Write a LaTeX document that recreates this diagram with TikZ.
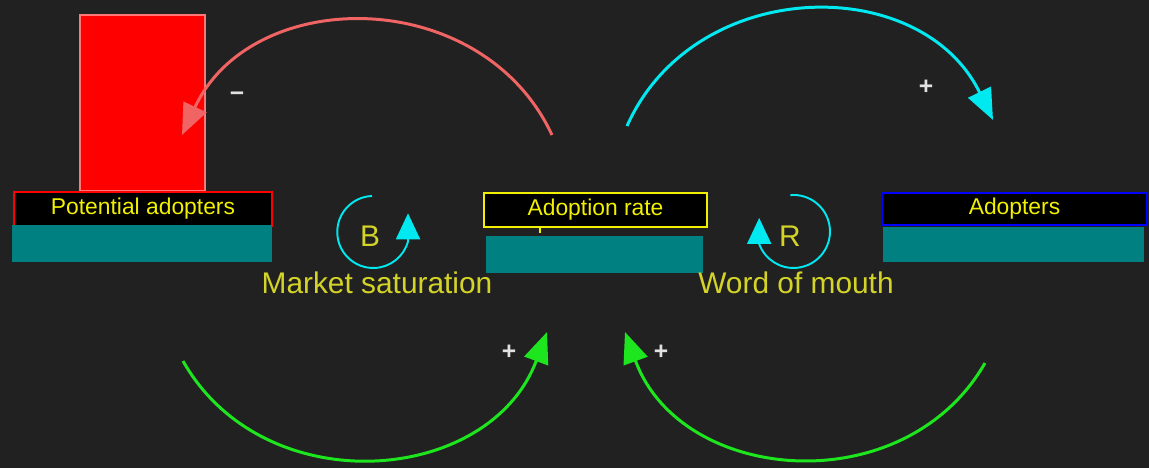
\documentclass[tikz,border=0pt]{standalone}
\usepackage{fontspec}
\setmainfont{Liberation Sans}
\usetikzlibrary{arrows.meta,positioning}

\definecolor{bgdark}{RGB}{33,33,33}
\definecolor{stockteal}{RGB}{0,128,128}
\definecolor{labelyellow}{RGB}{240,240,0}
\definecolor{textyellow}{RGB}{212,212,40}
\definecolor{arcred}{RGB}{240,100,100}
\definecolor{levelred}{RGB}{255,0,0}
\definecolor{levelrim}{RGB}{255,120,120}
\definecolor{arccyan}{RGB}{0,232,240}
\definecolor{arcgreen}{RGB}{30,230,30}
\definecolor{signgray}{RGB}{225,225,225}

\begin{document}
\begin{tikzpicture}[x=0.02cm,y=-0.02cm,
	namebox/.style={draw,line width=1.1pt,fill=black,text=labelyellow,inner sep=0pt,font=\fontsize{13}{15}\selectfont},
	stock/.style={fill=stockteal,inner sep=0pt},
	infl/.style={line width=1.7pt,-{Triangle[length=0.62cm,width=0.5cm]}},
	loopline/.style={arccyan,line width=1.1pt,-{Triangle[length=0.52cm,width=0.48cm]}},
	polarity/.style={text=signgray,font=\bfseries\fontsize{14}{16}\selectfont},
	loopname/.style={text=textyellow,font=\fontsize{17}{20}\selectfont}]
	\useasboundingbox (0,0) rectangle (1149,468);
	\fill[bgdark] (0,0) rectangle (1149,468);
	
	% stocks
	\node (level) [fill=levelred,draw=levelrim,line width=1pt,minimum width=2.5cm,minimum height=3.52cm] at (142.5,103) {};
	\node (potential) [namebox,draw=levelred,minimum width=5.16cm,minimum height=0.68cm] at (143,209) {Potential adopters};
	\node (potbar) [stock,minimum width=5.2cm,minimum height=0.74cm] at (142,243.5) {};
	\node (rate) [namebox,draw=labelyellow,minimum width=4.46cm,minimum height=0.68cm] at (595.5,210) {Adoption rate};
	\node (ratebar) [stock,minimum width=4.34cm,minimum height=0.74cm] at (594.5,254.5) {};
	\node (adopters) [namebox,draw=blue,minimum width=5.3cm,minimum height=0.64cm] at (1014.5,209) {Adopters};
	\node (adbar) [stock,minimum width=5.22cm,minimum height=0.7cm] at (1013.5,244.5) {};
	\draw[labelyellow,line width=1pt] ([xshift=-1.11cm]rate.south) -- ++(0,5);
	
	% loops
	\node (bname) [loopname] at (370,236) {B};
	\node (rname) [loopname] at (790,236) {R};
	\node (market) [loopname] at (377,283) {Market saturation};
	\node (mouth) [loopname] at (796,283) {Word of mouth};
	\coordinate (bstart) at (372,196);
	\coordinate (rstart) at (790.3,195.1);
	\draw[loopline] (bstart) arc[start angle=268,end angle=15,radius=36] -- ++(0,-28);
	\draw[loopline] (rstart) arc[start angle=-95,end angle=160,radius=36.5] -- ++(0,-26);
	
	% links
	\coordinate (redS) at (552,135);
	\coordinate (redE) at (182,135);
	\coordinate (cyanS) at (627,126);
	\coordinate (cyanE) at (993,120);
	\coordinate (greenLS) at (183,361);
	\coordinate (greenLE) at (547,332);
	\coordinate (greenRS) at (985,363);
	\coordinate (greenRE) at (625,332);
	\draw[infl,arcred] (redS) to[bend right=65,looseness=1.15] (redE);
	\draw[infl,arccyan] (cyanS) to[bend left=65,looseness=1.15] (cyanE);
	\draw[infl,arcgreen] (greenLS) to[bend right=65,looseness=1.15] (greenLE);
	\draw[infl,arcgreen] (greenRS) to[bend left=65,looseness=1.15] (greenRE);
	\node (minus) [polarity] at (237,97) {−};
	\node (plusC) [polarity] at (926,87) {+};
	\node (plusL) [polarity] at (509,352) {+};
	\node (plusR) [polarity] at (661,352) {+};
\end{tikzpicture}
\end{document}
